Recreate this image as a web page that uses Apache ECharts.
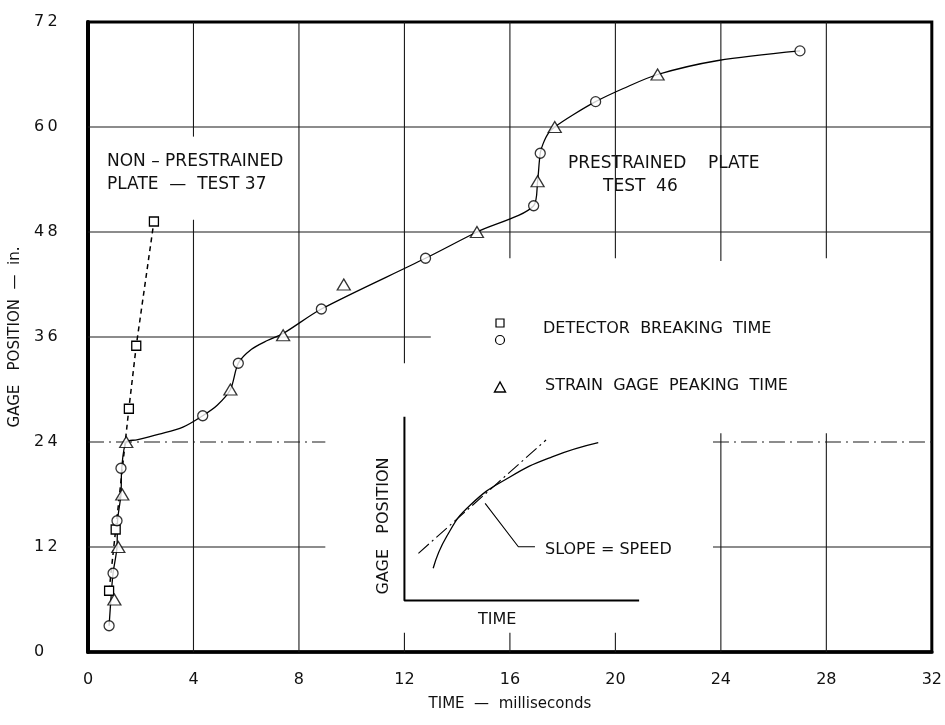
<!DOCTYPE html>
<html>
<head>
<meta charset="utf-8">
<title>Gage position vs time</title>
<script src="https://cdn.jsdelivr.net/npm/echarts@6/dist/echarts.min.js"></script>
<style>
  html, body { margin: 0; padding: 0; background: #ffffff; }
  #chart { width: 945px; height: 725px; }
</style>
</head>
<body>
<div id="chart"></div>
<script>
// test 37 (non-prestrained) - detector breaking time, squares
var test37Squares = [[0.8, 7], [1.05, 14], [1.55, 27.8], [1.83, 35], [2.5, 49.2]];
// test 46 (prestrained) - detector breaking time, circles
var test46Circles = [
  [0.8, 3], [0.95, 9], [1.1, 15], [1.25, 21], [4.35, 27], [5.7, 33],
  [8.85, 39.2], [12.8, 45], [16.9, 51], [17.15, 57], [19.25, 62.9], [27.0, 68.7]
];
// test 46 - strain gage peaking time, triangles
var test46Triangles = [
  [1.0, 6], [1.15, 12], [1.3, 18], [1.45, 24], [5.4, 30], [7.4, 36.2],
  [9.7, 42], [14.75, 48], [17.05, 53.8], [17.7, 60], [21.6, 66]
];
// hand faired curve through test 46
var test46Curve = [
  [0.8, 3], [0.88, 6.5], [0.95, 9], [1.1, 12], [1.12, 15], [1.25, 18], [1.28, 21],
  [1.45, 24], [1.85, 24.25], [2.7, 24.9], [3.6, 25.7], [4.35, 27], [4.9, 28.2],
  [5.4, 30], [5.7, 33], [6.2, 34.6], [6.8, 35.6], [7.4, 36.4], [8.85, 39.2],
  [12.8, 45], [14.75, 48], [16.9, 51], [17.05, 53.8],
  [17.15, 57], [17.26, 58.1], [17.46, 59.3], [17.7, 60], [18.4, 61.4], [19.25, 62.9],
  [20.3, 64.4], [21.6, 66], [23.9, 67.6], [27.0, 68.7]
];

var xTicks = { min: 0, max: 32, interval: 4 };
var yTicks = { min: 0, max: 72, interval: 12 };

// broken grid lines of the original sheet: [x1, y1, x2, y2, dashDot]
var gridSegments = [
  [0, 60, 32, 60, 0], [0, 48, 32, 48, 0], [0, 36, 13, 36, 0],
  [0, 24, 9, 24, 1], [23.7, 24, 32, 24, 1],
  [0, 12, 9, 12, 0], [23.7, 12, 32, 12, 0],
  [4, 0, 4, 49.4, 0], [4, 58.9, 4, 72, 0],
  [8, 0, 8, 72, 0],
  [12, 33, 12, 72, 0], [12, 0, 12, 2.2, 0],
  [16, 45, 16, 72, 0], [16, 0, 16, 2.2, 0],
  [20, 45, 20, 72, 0], [20, 0, 20, 2.2, 0],
  [24, 44.7, 24, 72, 0], [24, 0, 24, 25, 0],
  [28, 45, 28, 72, 0], [28, 0, 28, 25, 0]
];

// small sketch "slope = speed" inside the plot
var insetAxes = [[12, 26.9], [12, 5.9], [20.9, 5.9]];
var insetCurve = [[13.09, 9.57], [13.6, 13.2], [14.5, 16.8], [16.0, 20.0], [17.6, 22.3], [19.35, 23.92]];
var insetTangent = [[12.53, 11.28], [17.37, 24.23]];
var insetLeader = [[15.06, 16.99], [16.32, 12.03], [16.95, 12.03]];

var FONT = "DejaVu Sans";

var chart = echarts.init(document.getElementById("chart"));

function label(text, x, y, size) {
  return {
    type: "text",
    left: x,
    top: y,
    silent: true,
    style: {
      text: text,
      fill: "#111",
      font: (size || 16) + "px " + FONT
    }
  };
}

var markerStyle = { color: "#ffffff", borderColor: "#000000", borderWidth: 1.3 };

chart.setOption({
  backgroundColor: "#ffffff",
  animation: false,
  grid: {
    left: 88,
    right: 13,
    top: 22,
    bottom: 73,
    show: true,
    borderColor: "#000",
    borderWidth: 3
  },
  xAxis: {
    type: "value",
    min: xTicks.min,
    max: xTicks.max,
    interval: xTicks.interval,
    name: "TIME  \u2014  milliseconds",
    nameLocation: "middle",
    nameGap: 45,
    nameTextStyle: { fontFamily: FONT, fontSize: 15, color: "#111" },
    axisLine: { lineStyle: { color: "#000", width: 3.5 } },
    axisTick: { show: false },
    splitLine: { show: false },
    axisLabel: { margin: 20, fontFamily: FONT, fontSize: 16, color: "#111" }
  },
  yAxis: {
    type: "value",
    min: yTicks.min,
    max: yTicks.max,
    interval: yTicks.interval,
    name: "GAGE   POSITION  \u2014  in.",
    nameLocation: "middle",
    nameGap: 59,
    nameTextStyle: { fontFamily: FONT, fontSize: 15, color: "#111" },
    axisLine: { lineStyle: { color: "#000", width: 4 } },
    axisTick: { show: false },
    splitLine: { show: false },
    axisLabel: {
      margin: 54,
      align: "left",
      fontFamily: FONT,
      fontSize: 16,
      color: "#111",
      formatter: function (v) { return String(v).split("").join("\u2009"); }
    }
  },
  series: [
    {
      type: "custom",
      coordinateSystem: "cartesian2d",
      silent: true,
      z: 1,
      data: gridSegments,
      encode: { x: [0, 2], y: [1, 3] },
      renderItem: function (params, api) {
        var p1 = api.coord([api.value(0), api.value(1)]);
        var p2 = api.coord([api.value(2), api.value(3)]);
        return {
          type: "line",
          shape: { x1: p1[0], y1: p1[1], x2: p2[0], y2: p2[1] },
          style: {
            stroke: "#1a1a1a",
            lineWidth: 1.1,
            lineDash: api.value(4) ? [16, 5, 2, 5] : null
          }
        };
      }
    },
    {
      name: "inset axes",
      type: "line",
      silent: true,
      symbol: "none",
      z: 2,
      data: insetAxes,
      lineStyle: { color: "#000", width: 2 }
    },
    {
      name: "inset curve",
      type: "line",
      silent: true,
      symbol: "none",
      smooth: 0.5,
      z: 2,
      data: insetCurve,
      lineStyle: { color: "#000", width: 1.3 }
    },
    {
      name: "inset tangent",
      type: "line",
      silent: true,
      symbol: "none",
      z: 2,
      data: insetTangent,
      lineStyle: { color: "#000", width: 1.1, type: [14, 4, 2, 4] }
    },
    {
      name: "inset leader",
      type: "line",
      silent: true,
      symbol: "none",
      z: 2,
      data: insetLeader,
      lineStyle: { color: "#000", width: 1.1 }
    },
    {
      name: "Test 46 curve",
      type: "line",
      symbol: "none",
      smooth: 0.3,
      z: 3,
      data: test46Curve,
      lineStyle: { color: "#000", width: 1.3 }
    },
    {
      name: "Test 37",
      type: "line",
      symbol: "rect",
      symbolSize: 9,
      z: 4,
      data: test37Squares,
      lineStyle: { color: "#000", width: 1.5, type: [5, 4] },
      itemStyle: markerStyle
    },
    {
      name: "Detector breaking time",
      type: "scatter",
      symbol: "circle",
      symbolSize: 10,
      z: 5,
      data: test46Circles,
      itemStyle: markerStyle
    },
    {
      name: "Strain gage peaking time",
      type: "scatter",
      symbol: "triangle",
      symbolSize: [13, 11],
      z: 5,
      data: test46Triangles,
      itemStyle: markerStyle
    }
  ],
  graphic: [
    label("NON \u2013 PRESTRAINED", 107, 153, 17),
    label("PLATE  \u2014  TEST 37", 107, 176, 17),
    label("PRESTRAINED    PLATE", 568, 155, 17),
    label("TEST  46", 603, 178, 17),
    label("DETECTOR  BREAKING  TIME", 543, 321, 16),
    label("STRAIN  GAGE  PEAKING  TIME", 545, 378, 16),
    label("SLOPE = SPEED", 545, 542, 16),
    label("TIME", 478, 612, 16),
    {
      type: "text",
      x: 384,
      y: 526,
      rotation: Math.PI / 2,
      silent: true,
      style: {
        text: "GAGE   POSITION",
        fill: "#111",
        font: "16px " + FONT,
        textAlign: "center",
        textVerticalAlign: "middle"
      }
    },
    {
      type: "rect",
      x: 496, y: 319,
      silent: true,
      shape: { width: 8, height: 8 },
      style: { fill: "#fff", stroke: "#000", lineWidth: 1.2 }
    },
    {
      type: "circle",
      x: 500, y: 340,
      silent: true,
      shape: { r: 4.5 },
      style: { fill: "#fff", stroke: "#000", lineWidth: 1.2 }
    },
    {
      type: "polygon",
      silent: true,
      shape: { points: [[500, 382], [494.5, 392], [505.5, 392]] },
      style: { fill: "#fff", stroke: "#000", lineWidth: 1.4 }
    }
  ]
});
</script>
</body>
</html>
